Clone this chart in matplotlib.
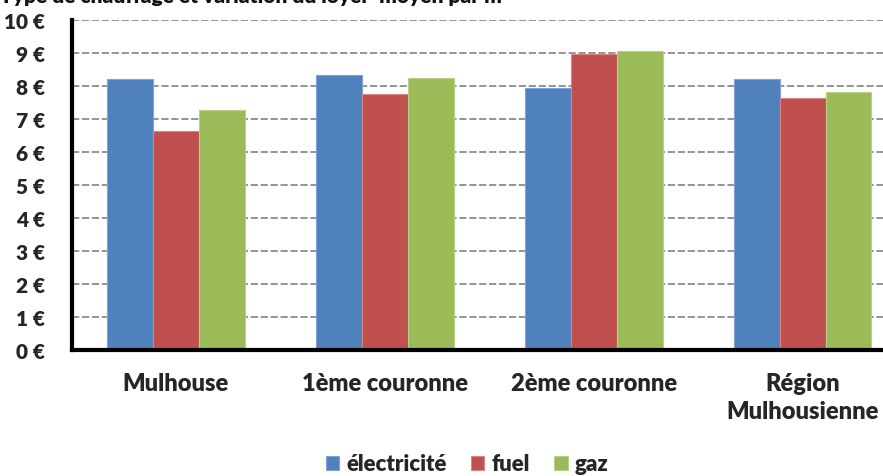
import numpy as np
import matplotlib.pyplot as plt

categories = ["Mulhouse", "1ème couronne", "2ème couronne", "Région\nMulhousienne"]
series_names = ["électricité", "fuel", "gaz"]
electricite = [8.21, 8.33, 7.94, 8.21]
fuel = [6.64, 7.76, 8.97, 7.64]
gaz = [7.27, 8.24, 9.06, 7.82]
yticks = list(range(0, 11))
ytick_labels = [f"{v} €" for v in yticks]

colors = ["#4F81BD", "#C0504D", "#9BBB59"]
edges = ["#7FA3D3", "#D98583", "#B9D08A"]

plt.rcParams['font.family'] = ['Lato', 'DejaVu Sans']
text_color = "#262626"

fig = plt.figure(figsize=(8.83, 4.77), dpi=100)
ax = fig.add_axes([71.5 / 883, 1 - 351 / 477, (907 - 71.5) / 883, 330 / 477])

x = np.arange(len(categories))
w = 0.22
for i, (vals, name) in enumerate(zip([electricite, fuel, gaz], series_names)):
    ax.bar(x + (i - 1) * w, vals, width=w, color=colors[i], edgecolor=edges[i],
           linewidth=0.8, label=name, zorder=3)

ax.set_xlim(-0.5, len(categories) - 0.5)
ax.set_ylim(0, 10)
ax.set_yticks(yticks)
ax.set_yticklabels(ytick_labels, fontsize=15, fontweight='heavy', color=text_color)
ax.set_xticks(x)
ax.set_xticklabels(categories, fontsize=17, fontweight='heavy', color=text_color,
                   linespacing=1.3)
ax.tick_params(axis='y', length=0, pad=19)
ax.tick_params(axis='x', length=0, pad=16)

ax.grid(axis='y', color='#8C8C8C', linestyle=(0, (4, 1.5)), linewidth=1.3, zorder=0)
for s in ['top', 'right']:
    ax.spines[s].set_visible(False)
ax.spines['left'].set_linewidth(3)
ax.spines['bottom'].set_linewidth(3)
ax.spines['left'].set_zorder(4)
ax.spines['bottom'].set_zorder(4)

fig.text(0.0, 1 - 3 / 477, "Type de chauffage et variation du loyer  moyen par m²",
         fontsize=15, fontweight='heavy', color='#111111', ha='left', va='baseline')

fig.legend(loc='center', bbox_to_anchor=(467 / 883, 1 - 465 / 477), ncol=3, frameon=False,
           prop={'size': 16, 'weight': 'heavy'}, handlelength=0.6, handleheight=0.6,
           handletextpad=0.32, columnspacing=1.1, labelcolor=text_color)

fig.savefig("out.png", dpi=100)
